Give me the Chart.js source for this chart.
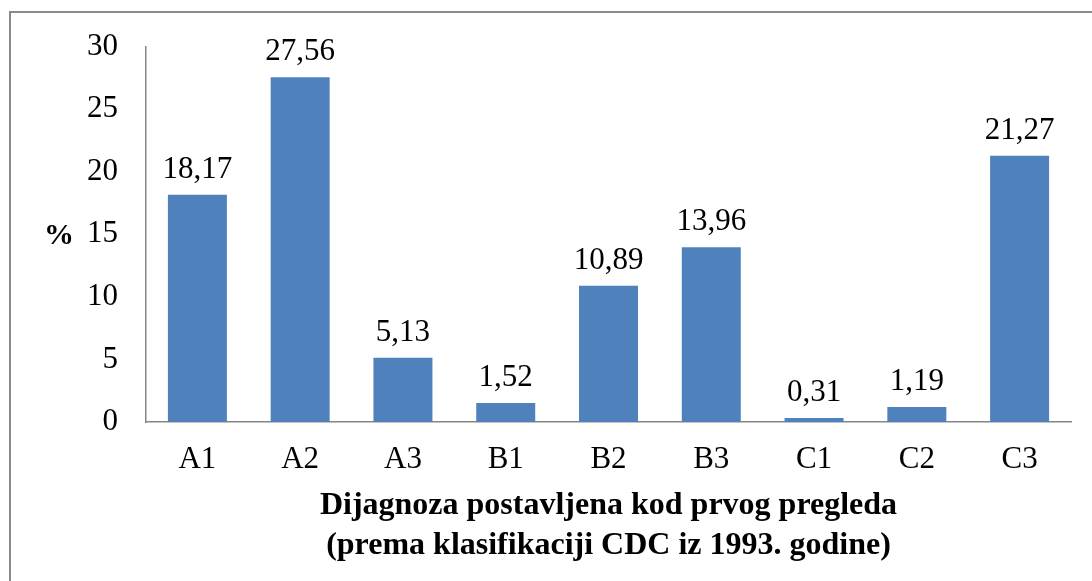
<!DOCTYPE html>
<html>
<head>
<meta charset="utf-8">
<script src="https://cdn.jsdelivr.net/npm/chart.js@4"></script>
<style>
  html, body { margin: 0; padding: 0; background: #fff; }
  #wrap { position: relative; width: 1092px; height: 581px; overflow: hidden; }
  #frame { position: absolute; left: 9px; top: 11px; width: 1200px; height: 700px;
           border-left: 2px solid #8a8a8a; border-top: 2px solid #8a8a8a; }
  canvas { position: absolute; left: 0; top: 0; }
</style>
</head>
<body>
<div id="wrap">
  <div id="frame"></div>
  <canvas id="chart" width="1092" height="581"></canvas>
</div>
<script>
// data
const categories = ["A1", "A2", "A3", "B1", "B2", "B3", "C1", "C2", "C3"];
const percents = [18.17, 27.56, 5.13, 1.52, 10.89, 13.96, 0.31, 1.19, 21.27];
const yTicks = [0, 5, 10, 15, 20, 25, 30];
const xTitle = ["Dijagnoza postavljena kod prvog pregleda", "(prema klasifikaciji CDC iz 1993. godine)"];
const yTitle = "%";

const serif = "'Liberation Serif', 'Times New Roman', serif";

// value labels above bars + horizontal "%" title
const extras = {
  id: "extras",
  afterDatasetsDraw(chart) {
    const ctx = chart.ctx;
    const meta = chart.getDatasetMeta(0);
    ctx.save();
    ctx.fillStyle = "#000";
    ctx.font = "31px " + serif;
    ctx.textAlign = "center";
    ctx.textBaseline = "alphabetic";
    meta.data.forEach((bar, i) => {
      ctx.fillText(percents[i].toFixed(2).replace(".", ","), bar.x, bar.y - 17);
    });
    const y = chart.scales.y;
    ctx.font = "bold 30px " + serif;
    ctx.textBaseline = "middle";
    ctx.fillText(yTitle, 59, y.getPixelForValue(15) + 2);
    ctx.restore();
  }
};

new Chart(document.getElementById("chart"), {
  type: "bar",
  data: {
    labels: categories,
    datasets: [{
      data: percents,
      backgroundColor: "#4F81BD",
      barPercentage: 0.574,
      categoryPercentage: 1
    }]
  },
  options: {
    responsive: false,
    animation: false,
    layout: { padding: { top: 43, right: 21, left: 0, bottom: 0 } },
    plugins: { legend: { display: false }, tooltip: { enabled: false } },
    scales: {
      x: {
        grid: { display: false, drawTicks: false },
        border: { display: true, color: "#868686", width: 1.5 },
        ticks: { color: "#000", font: { family: serif, size: 31 }, padding: 19 },
        title: {
          display: true,
          text: xTitle,
          color: "#000",
          font: { family: serif, size: 32, weight: "bold", lineHeight: 1.25 },
          padding: { top: 4, bottom: 15 }
        },
        afterFit(scale) { scale.height = 159; }
      },
      y: {
        min: 0,
        max: 30,
        afterBuildTicks(scale) { scale.ticks = yTicks.map(v => ({ value: v })); },
        grid: { display: false, drawTicks: false },
        border: { display: true, color: "#868686", width: 1.5 },
        ticks: { color: "#000", font: { family: serif, size: 31 }, padding: 28 },
        afterFit(scale) { scale.width = 146; }
      }
    }
  },
  plugins: [extras]
});
</script>
</body>
</html>
